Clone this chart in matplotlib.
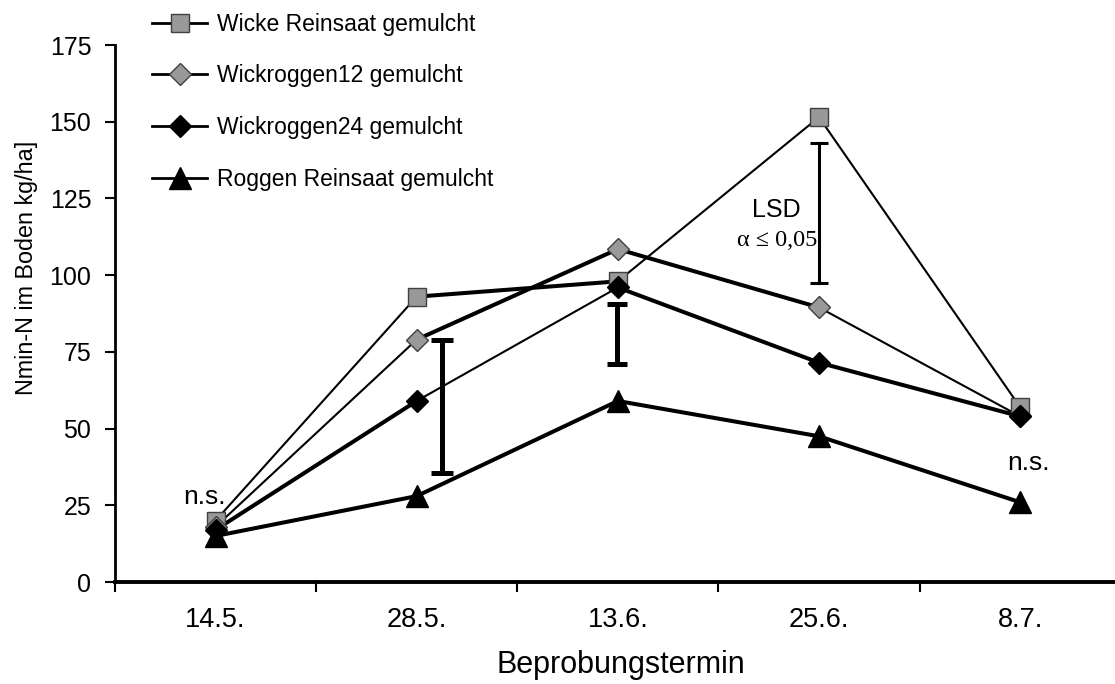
import matplotlib
matplotlib.use("Agg")
import matplotlib.pyplot as plt
from matplotlib.lines import Line2D

plt.rcParams['font.family'] = ['Liberation Sans', 'DejaVu Sans']

termine = ["14.5.", "28.5.", "13.6.", "25.6.", "8.7."]

wicke = [20, 93, 98, 151.5, 57]
wickroggen12 = [18, 79, 108.5, 89.5, 54]
wickroggen24 = [17, 59, 96, 71.5, 54]
roggen = [15, 28, 59, 47.5, 26]

# LSD bars: position (category index, slightly shifted), lower, upper
lsd_x = [1.124, 1.995, 3.0]
lsd_lo = [35.5, 71, 97.5]
lsd_hi = [79, 90.5, 143]

labels = ["Wicke Reinsaat gemulcht", "Wickroggen12 gemulcht",
          "Wickroggen24 gemulcht", "Roggen Reinsaat gemulcht"]
series = [wicke, wickroggen12, wickroggen24, roggen]

thin, thick = 1.5, 2.9
seg_widths = [
    [thin, thick, thin, thin],
    [thin, thick, thick, thin],
    [thick, thin, thick, thick],
    [thick, thick, thick, thick],
]
markers = [("s", 13, "#999999", "#404040"),
           ("D", 11, "#999999", "#404040"),
           ("D", 11, "black", "black"),
           ("^", 16, "black", "black")]

fig = plt.figure(figsize=(11.15, 6.84), dpi=100)
ax = fig.add_axes([0.1031, 0.1491, 0.902, 0.785])

x = list(range(len(termine)))
for vals, widths in zip(series, seg_widths):
    for i in range(len(vals) - 1):
        ax.plot(x[i:i + 2], vals[i:i + 2], color="black", lw=widths[i],
                solid_capstyle="butt", zorder=2)

for vals, (m, ms, fc, ec) in zip(series, markers):
    ax.plot(x, vals, ls="none", marker=m, ms=ms, mfc=fc, mec=ec, mew=1.0,
            zorder=3)

for bx, lo, hi, w, cw in zip(lsd_x, lsd_lo, lsd_hi, [3.6, 3.6, 2.2],
                             [0.055, 0.05, 0.045]):
    ax.plot([bx, bx], [lo, hi], color="black", lw=w, zorder=4)
    for yy in (lo, hi):
        ax.plot([bx - cw, bx + cw], [yy, yy], color="black", lw=w,
                solid_capstyle="butt", zorder=4)

ax.text(2.79, 119, "LSD", ha="center", va="baseline", fontsize=18)
ax.text(2.79, 109.5, "\u03b1 \u2264 0,05", ha="center", va="baseline",
        fontsize=17.5, family=["Liberation Serif", "DejaVu Serif"])
ax.text(-0.055, 25.4, "n.s.", ha="center", va="baseline", fontsize=19)
ax.text(4.04, 36.5, "n.s.", ha="center", va="baseline", fontsize=19)

ax.set_xlim(-0.5, 4.5)
ax.set_ylim(0, 175)
ax.set_yticks(range(0, 176, 25))
ax.tick_params(axis="y", labelsize=18, length=7, width=1.5, pad=10)
ax.set_xticks(x)
ax.set_xticklabels(termine, fontsize=19.5)
ax.tick_params(axis="x", length=0, pad=18)
ax.set_xticks([i + 0.5 for i in range(-1, 5)], minor=True)
ax.tick_params(axis="x", which="minor", length=7, width=1.5)

for s in ["top", "right"]:
    ax.spines[s].set_visible(False)
ax.spines["left"].set_linewidth(2)
ax.spines["bottom"].set_linewidth(2.8)

ax.set_ylabel("Nmin-N im Boden kg/ha]", fontsize=16.8)
ax.yaxis.set_label_coords(-0.077, 0.585)
xl = ax.set_xlabel("Beprobungstermin", fontsize=22)
xl.set_va("center")
ax.xaxis.set_label_coords(0.503, -0.1546)

handles = [Line2D([0], [0], color="black", lw=2, marker=m, ms=ms, mfc=fc,
                  mec=ec, mew=1.0) for (m, ms, fc, ec) in markers]
fig.legend(handles, labels, loc="upper left", bbox_to_anchor=(0.122, 1.005),
           frameon=False, fontsize=16.5, handlelength=2.4, handletextpad=0.45,
           labelspacing=1.25, borderaxespad=0.3)

fig.savefig("out.png", dpi=100)
